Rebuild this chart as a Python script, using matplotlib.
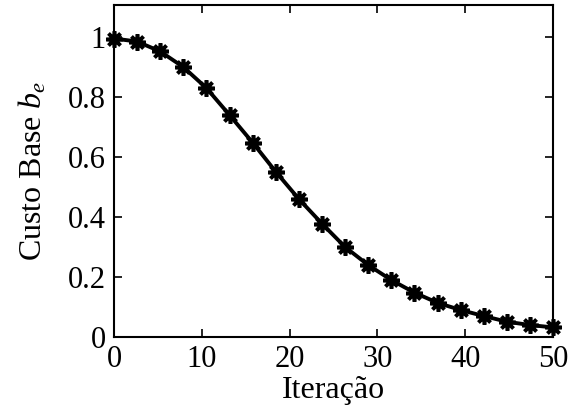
import numpy as np
import matplotlib.pyplot as plt

plt.rcParams['font.family'] = 'Liberation Serif'
plt.rcParams['mathtext.fontset'] = 'custom'
plt.rcParams['mathtext.it'] = 'Liberation Serif:italic'
plt.rcParams['mathtext.rm'] = 'Liberation Serif'

# iterations (20 samples from 0 to 50)
iteracao = np.linspace(0, 50, 20)
custo = [0.995, 0.985, 0.952, 0.90, 0.83, 0.74, 0.648, 0.551, 0.46, 0.378,
         0.30, 0.24, 0.19, 0.148, 0.114, 0.09, 0.07, 0.051, 0.04, 0.032]

fig = plt.figure(figsize=(5.71, 4.11), dpi=100)
ax = fig.add_axes([0.1996, 0.180, 0.769, 0.808])

ax.plot(iteracao, custo, color='black', lw=2.8, marker=(8, 2, 0),
        markersize=12, markeredgewidth=2.6, clip_on=False)

ax.set_xlim(0, 50)
ax.set_ylim(0, 1.107)
ax.set_xticks([0, 10, 20, 30, 40, 50])
ax.set_yticks([0, 0.2, 0.4, 0.6, 0.8, 1])
ax.set_yticklabels(['0', '0.2', '0.4', '0.6', '0.8', '1'])
ax.tick_params(direction='in', top=True, right=True, labelsize=22,
               length=6, width=1.2, pad=6)
ax.tick_params(axis='x', pad=6)
for s in ax.spines.values():
    s.set_linewidth(1.5)

ax.set_xlabel('Iteração', fontsize=23, labelpad=1)
ax.set_ylabel('Custo Base $b_e$', fontsize=23, labelpad=14)

fig.savefig('out.png', dpi=100)
